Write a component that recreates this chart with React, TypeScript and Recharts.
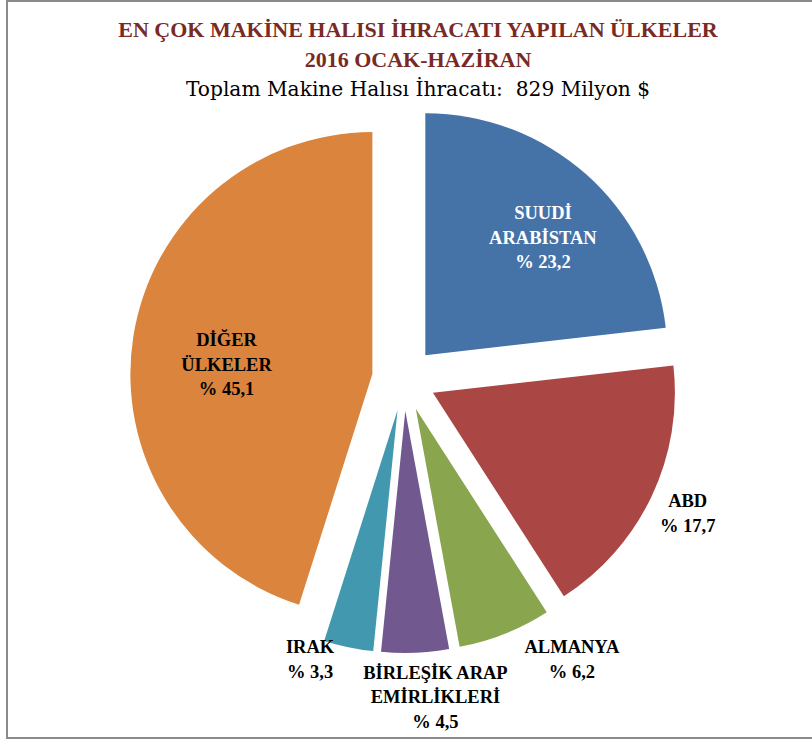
import { PieChart, Pie, Cell, Sector } from "recharts";

// ─── Data ────────────────────────────────────────

const countries = ["SUUDİ ARABİSTAN", "ABD", "ALMANYA", "BİRLEŞİK ARAP EMİRLİKLERİ", "IRAK", "DİĞER ÜLKELER"];
const labelLines = [
  ["SUUDİ", "ARABİSTAN"],
  ["ABD"],
  ["ALMANYA"],
  ["BİRLEŞİK ARAP", "EMİRLİKLERİ"],
  ["IRAK"],
  ["DİĞER", "ÜLKELER"],
];
const shares = [23.2, 17.7, 6.2, 4.5, 3.3, 45.1];

const colors = ["#4572A7", "#AA4643", "#89A54E", "#71588F", "#4198AF", "#DB843D"];
const labelColors = ["#ffffff", "#000000", "#000000", "#000000", "#000000", "#000000"];

// label distance from centre and angle shift (degrees, clockwise)
const labelLayout = [
  { r: 198, shift: 2.8 },
  { r: 314, shift: 0 },
  { r: 327, shift: -9.3 },
  { r: 320, shift: -3.3 },
  { r: 296, shift: 6.8 },
  { r: 178, shift: -4.3 },
];

const data = countries.map((name, i) => ({ name, value: shares[i] }));

const EXPLODE = 32;
const RAD = Math.PI / 180;

// ─── Exploded slice ──────────────────────────────

function ExplodedSector(props: any) {
  const { cx, cy, midAngle } = props;
  const dx = EXPLODE * Math.cos(-midAngle * RAD);
  const dy = EXPLODE * Math.sin(-midAngle * RAD);
  return <Sector {...props} cx={cx + dx} cy={cy + dy} />;
}

// ─── Labels ──────────────────────────────────────

function SliceLabel(props: any) {
  const { cx, cy, midAngle, index } = props;
  const { r, shift } = labelLayout[index];
  const a = midAngle - shift;
  const x = cx + r * Math.cos(-a * RAD);
  const y = cy + r * Math.sin(-a * RAD);
  const lines = [...labelLines[index], `% ${shares[index].toFixed(1).replace(".", ",")}`];
  const lh = 24.5;
  const top = y - ((lines.length - 1) * lh) / 2;
  return (
    <text
      x={x}
      y={top}
      textAnchor="middle"
      dominantBaseline="central"
      fill={labelColors[index]}
      fontFamily="'Liberation Serif', serif"
      fontWeight="bold"
      fontSize={18.5}
    >
      {lines.map((l, k) => (
        <tspan key={k} x={x} y={top + k * lh}>
          {l}
        </tspan>
      ))}
    </text>
  );
}

// ─── Component ───────────────────────────────────

export default function App() {
  return (
    <div style={{ position: "absolute", left: 0, top: 0, width: 812, height: 740, background: "#fff", overflow: "hidden" }}>
      <div
        style={{
          position: "absolute",
          left: 0,
          width: 836,
          top: 15,
          textAlign: "center",
          fontFamily: "'Liberation Serif', serif",
          lineHeight: "30px",
        }}
      >
        <div style={{ fontWeight: "bold", fontSize: 22, color: "#7A2A24" }}>
          EN ÇOK MAKİNE HALISI İHRACATI YAPILAN ÜLKELER
        </div>
        <div style={{ fontWeight: "bold", fontSize: 22, color: "#7A2A24" }}>2016 OCAK-HAZİRAN</div>
        <div style={{ fontSize: 20.2, color: "#000", fontFamily: "'DejaVu Serif', serif", lineHeight: "28px" }}>
          Toplam Makine Halısı İhracatı:&nbsp; 829 Milyon $
        </div>
      </div>
      <div style={{ position: "absolute", left: 0, top: 0 }}>
        <PieChart width={812} height={740} margin={{ top: 0, right: 0, bottom: 0, left: 0 }}>
          <Pie
            data={data}
            dataKey="value"
            nameKey="name"
            cx={404}
            cy={379}
            outerRadius={242}
            startAngle={90}
            endAngle={-270}
            stroke="none"
            shape={ExplodedSector}
            activeShape={ExplodedSector}
            inactiveShape={ExplodedSector}
            label={SliceLabel}
            labelLine={false}
            isAnimationActive={false}
          >
            {data.map((d, i) => (
              <Cell key={d.name} fill={colors[i]} />
            ))}
          </Pie>
        </PieChart>
      </div>
      <div
        style={{
          position: "absolute",
          left: 6,
          top: 0,
          width: 900,
          height: 735,
          border: "2px solid #8a8a8a",
          pointerEvents: "none",
          zIndex: 2,
        }}
      />
    </div>
  );
}
